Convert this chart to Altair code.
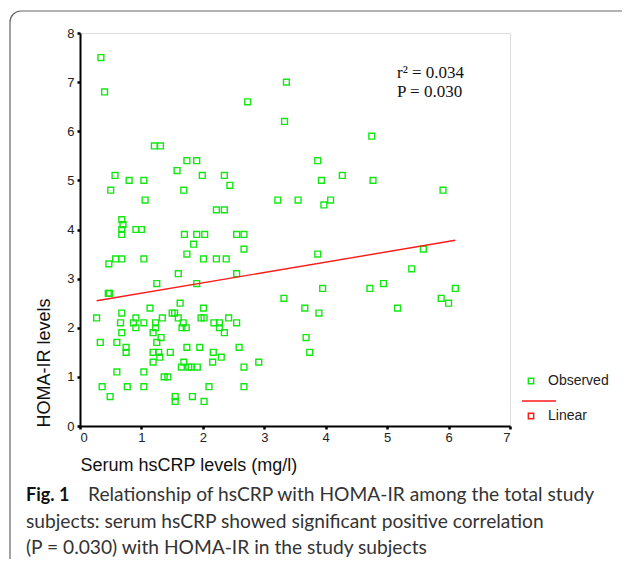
import altair as alt
import pandas as pd

# Observed values (Serum hsCRP mg/l, HOMA-IR)
hscrp = [0.34, 0.40, 3.36, 2.73, 3.33, 4.75,
         1.21, 1.31, 1.74, 1.90, 3.87, 1.58,
         0.57, 1.99, 2.35, 4.27, 0.80, 1.04, 3.93, 4.77,
         2.44, 0.50, 1.69, 5.91, 1.06, 3.22, 3.55, 4.08, 3.97,
         2.22, 2.35, 0.68, 0.70, 0.68, 0.91, 1.00,
         0.68, 1.70, 1.90, 2.03, 2.55, 2.67, 1.85, 2.67, 5.59,
         1.74, 3.87, 0.58, 0.68, 1.04, 2.01, 2.22, 2.38, 0.47,
         5.40, 1.60, 2.55,
         1.25, 1.90, 4.94, 3.95, 4.72, 6.11, 0.46, 0.48,
         3.32, 5.88, 1.63, 6.00, 1.14, 2.01, 3.66, 5.17,
         0.68, 1.50, 1.54, 3.89,
         0.27, 0.91, 1.34, 1.60, 1.97, 2.02, 2.42,
         0.66, 0.87, 1.04, 1.23, 1.68, 2.18, 2.27, 2.55,
         0.91, 1.23, 1.66, 1.73, 2.27,
         0.68, 1.19, 2.35, 1.32, 3.68,
         0.33, 0.60, 1.25,
         0.75, 1.74, 1.95, 2.59,
         0.75, 1.19, 1.28, 1.47, 2.17, 3.74,
         1.30, 2.30,
         1.19, 1.69, 2.16, 2.91,
         1.65, 1.77, 1.81, 1.91, 2.67,
         0.60, 1.04, 1.37, 1.43,
         0.36, 0.77, 1.04, 2.10, 2.67,
         0.49, 1.55, 1.83, 1.55, 2.02]
homa = [7.5, 6.8, 7.0, 6.6, 6.2, 5.9,
        5.7, 5.7, 5.4, 5.4, 5.4, 5.2,
        5.1, 5.1, 5.1, 5.1, 5.0, 5.0, 5.0, 5.0,
        4.9, 4.8, 4.8, 4.8, 4.6, 4.6, 4.6, 4.6, 4.5,
        4.4, 4.4, 4.2, 4.1, 4.0, 4.0, 4.0,
        3.9, 3.9, 3.9, 3.9, 3.9, 3.9, 3.7, 3.6, 3.6,
        3.5, 3.5, 3.4, 3.4, 3.4, 3.4, 3.4, 3.4, 3.3,
        3.2, 3.1, 3.1,
        2.9, 2.9, 2.9, 2.8, 2.8, 2.8, 2.7, 2.7,
        2.6, 2.6, 2.5, 2.5, 2.4, 2.4, 2.4, 2.4,
        2.3, 2.3, 2.3, 2.3,
        2.2, 2.2, 2.2, 2.2, 2.2, 2.2, 2.2,
        2.1, 2.1, 2.1, 2.1, 2.1, 2.1, 2.1, 2.1,
        2.0, 2.0, 2.0, 2.0, 2.0,
        1.9, 1.9, 1.9, 1.8, 1.8,
        1.7, 1.7, 1.7,
        1.6, 1.6, 1.6, 1.6,
        1.5, 1.5, 1.5, 1.5, 1.5, 1.5,
        1.4, 1.4,
        1.3, 1.3, 1.3, 1.3,
        1.2, 1.2, 1.2, 1.2, 1.2,
        1.1, 1.1, 1.0, 1.0,
        0.8, 0.8, 0.8, 0.8, 0.8,
        0.6, 0.6, 0.6, 0.5, 0.5]

# Linear fit
fit_x = [0.27, 6.11]
fit_y = [2.55, 3.78]

series = ["Observed", "Linear"]
series_colors = ["#14e614", "#ff1a1a"]

stats_lines = ["r\u00b2 = 0.034", "P = 0.030"]
caption_bold = "Fig. 1"
caption_lines = ["Relationship of hsCRP with HOMA-IR among the total study",
                 "subjects: serum hsCRP showed significant positive correlation",
                 "(P = 0.030) with HOMA-IR in the study subjects"]

x_ticks = [0, 1, 2, 3, 4, 5, 6, 7]
y_ticks = [0, 1, 2, 3, 4, 5, 6, 7, 8]

pts = pd.DataFrame({"x": hscrp, "y": homa, "series": "Observed"})
fit = pd.DataFrame({"x": fit_x, "y": fit_y})

W, H = 430, 393
SANS = "Liberation Sans"
CAP = "Lato"

xs = alt.Scale(domain=[0, 7], nice=False, zero=False)
ys = alt.Scale(domain=[0, 8], nice=False, zero=False)

x_axis = alt.Axis(values=x_ticks, format="d", title="Serum hsCRP levels (mg/l)", grid=False,
                  domainColor="#000", domainWidth=2, tickColor="#000", tickSize=3,
                  tickWidth=2.5, labelFont=SANS, labelFontSize=13, labelColor="#222",
                  labelPadding=2, titleFont=SANS, titleFontSize=18, titleFontWeight="normal",
                  titleColor="#111", titleX=0, titleY=44, titleAlign="left",
                  titleBaseline="alphabetic", titleAnchor="start")
y_axis = alt.Axis(values=y_ticks, format="d", title="HOMA-IR levels", grid=False,
                  domainColor="#000", domainWidth=2, tickColor="#000", tickSize=3,
                  tickWidth=2.5, labelFont=SANS, labelFontSize=13, labelColor="#222",
                  labelPadding=3, titleFont=SANS, titleFontSize=18, titleFontWeight="normal",
                  titleColor="#111", titleX=-36, titleY=H + 1, titleAlign="left",
                  titleBaseline="middle", titleAngle=-90, titleAnchor="start")

color = alt.Color("series:N",
                  scale=alt.Scale(domain=series, range=series_colors),
                  legend=alt.Legend(title=None, orient="none", legendX=444, legendY=341,
                                    symbolType="square", symbolSize=28,
                                    symbolStrokeWidth=1.5, symbolFillColor="white",
                                    labelFont=SANS, labelFontSize=14, labelColor="#222",
                                    labelOffset=10, rowPadding=21, padding=0))

points = alt.Chart(pts).mark_point(shape="square", filled=False, size=34,
                                   strokeWidth=1.4, opacity=1).encode(
    x=alt.X("x:Q", scale=xs, axis=x_axis),
    y=alt.Y("y:Q", scale=ys, axis=y_axis),
    color=color,
)

line = alt.Chart(fit).mark_line(color="#ff1a1a", strokeWidth=1.4).encode(
    x=alt.X("x:Q", scale=xs),
    y=alt.Y("y:Q", scale=ys),
)

one = pd.DataFrame({"k": [0]})

legend_line = alt.Chart(one).mark_rule(color="#ff1a1a", strokeWidth=1.4).encode(
    x=alt.value(442), x2=alt.value(476), y=alt.value(368))

frame = alt.Chart(one).mark_rect(
    fill=None, stroke="#666", strokeWidth=1.2, cornerRadius=11).encode(
    x=alt.value(-70), x2=alt.value(700), y=alt.value(-22), y2=alt.value(700))


def text_layer(t, x, y, font, size, color, weight="normal"):
    return alt.Chart(pd.DataFrame({"t": [t]})).mark_text(
        font=font, fontSize=size, fontWeight=weight, color=color, align="left",
        baseline="alphabetic").encode(x=alt.value(x), y=alt.value(y), text="t:N")


stat_layers = [text_layer(stats_lines[0], 317, 45, "Liberation Serif", 17, "#111"),
               text_layer(stats_lines[1], 317, 64, "Liberation Serif", 17, "#111")]

cap_layers = [text_layer(caption_bold, -54, 468, CAP, 18, "#111", "bold"),
              text_layer(caption_lines[0], 8, 468, CAP, 19.2, "#333"),
              text_layer(caption_lines[1], -54, 495, CAP, 19.2, "#333"),
              text_layer(caption_lines[2], -54, 521, CAP, 19.2, "#333")]

chart = alt.layer(frame, points, line, legend_line, *stat_layers, *cap_layers).properties(
    width=W, height=H,
    autosize=alt.AutoSizeParams(type="none"),
    padding={"left": 72, "top": 25, "right": 112, "bottom": 133},
).configure_view(stroke="#333", strokeWidth=1.3).configure(background="white")

chart.save("out.html", embed_options={"renderer": "svg", "actions": False})
